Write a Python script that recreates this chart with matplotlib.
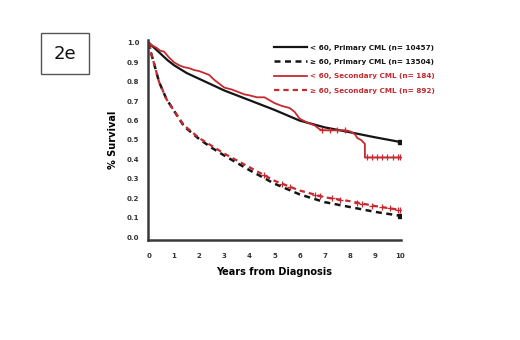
import numpy as np
import matplotlib
matplotlib.use("Agg")
import matplotlib.pyplot as plt
from matplotlib.patches import Rectangle

# Kaplan-Meier style survival curves
t_prim_young = [0, 0.25, 0.5, 0.75, 1, 1.5, 2, 2.5, 3, 4, 5, 6, 7, 8, 9, 10]
s_prim_young = [1.0, 0.97, 0.94, 0.91, 0.885, 0.845, 0.815, 0.785, 0.755, 0.705, 0.655, 0.6, 0.565, 0.54, 0.514, 0.49]

t_prim_old = [0, 0.1, 0.2, 0.4, 0.7, 1, 1.4, 2, 2.5, 3, 4, 5, 6, 7, 8, 9, 10]
s_prim_old = [1.0, 0.94, 0.895, 0.8, 0.71, 0.65, 0.57, 0.505, 0.46, 0.42, 0.345, 0.275, 0.22, 0.18, 0.155, 0.13, 0.11]

t_sec_young = [0, 0.15, 0.3, 0.45, 0.6, 0.8, 1.0, 1.2, 1.4, 1.6, 1.8, 2.0, 2.2, 2.4, 2.6, 2.8, 3.0, 3.3, 3.6, 3.8,
               4.0, 4.3, 4.6, 4.8, 5.0, 5.3, 5.6, 5.8, 6.0, 6.3, 6.6, 6.8, 7.0, 7.4, 7.8, 8.0, 8.2, 8.3, 8.45, 8.6, 8.6, 10.0]
s_sec_young = [1.0, 0.985, 0.975, 0.96, 0.955, 0.925, 0.9, 0.885, 0.875, 0.87, 0.86, 0.855, 0.845, 0.835, 0.81, 0.79,
               0.77, 0.76, 0.745, 0.735, 0.73, 0.72, 0.72, 0.705, 0.69, 0.675, 0.665, 0.645, 0.61, 0.59, 0.575, 0.555,
               0.55, 0.55, 0.55, 0.545, 0.53, 0.51, 0.5, 0.48, 0.41, 0.41]
cens_sec_young = [6.9, 7.2, 7.5, 7.8, 8.7, 8.9, 9.1, 9.3, 9.5, 9.7, 9.9, 10.0]

t_sec_old = [0, 0.1, 0.2, 0.4, 0.7, 1, 1.4, 2, 2.5, 3, 4, 5, 6, 7, 8, 9, 10]
s_sec_old = [1.0, 0.94, 0.895, 0.8, 0.71, 0.65, 0.575, 0.51, 0.47, 0.43, 0.36, 0.29, 0.24, 0.205, 0.185, 0.16, 0.14]
cens_sec_old = [4.6, 5.3, 5.6, 6.6, 6.8, 7.3, 7.6, 8.3, 8.5, 8.9, 9.3, 9.6, 9.9, 10.0]

labels = ["< 60, Primary CML (n= 10457)", "\u2265 60, Primary CML (n= 13504)",
          "< 60, Secondary CML (n= 184)", "\u2265 60, Secondary CML (n= 892)"]

BLACK = "#151515"
RED = "#c62a2f"

fig = plt.figure(figsize=(5.2, 3.4), dpi=100)
ax = fig.add_axes([147.7 / 520, 1 - 240 / 340, (401.3 - 147.7) / 520, 200 / 340])

dash = (0, (2.4, 1.8))
l1, = ax.plot(t_prim_young, s_prim_young, color=BLACK, lw=1.6)
l2, = ax.plot(t_prim_old, s_prim_old, color=BLACK, lw=1.8, ls=dash)
l3, = ax.plot(t_sec_young, s_sec_young, color=RED, lw=1.3)
l4, = ax.plot(t_sec_old, s_sec_old, color=RED, lw=1.6, ls=dash)

# end-of-follow-up markers on the primary curves
ax.plot([t_prim_young[-1], t_prim_old[-1]], [s_prim_young[-1], s_prim_old[-1]], ls="none",
        marker="s", ms=3, color=BLACK)

# censoring ticks
ax.plot(cens_sec_young, np.interp(cens_sec_young, t_sec_young, s_sec_young), ls="none", marker="+",
        color=RED, ms=4, mew=0.9)
ax.plot(cens_sec_old, np.interp(cens_sec_old, t_sec_old, s_sec_old), ls="none", marker="+",
        color=RED, ms=4, mew=0.9)

ax.set_xlim(-0.05, 10.05)
ax.set_ylim(-0.015, 1.015)
ax.set_xticks(range(0, 11))
ax.set_yticks(np.arange(0, 1.01, 0.1))
ax.set_yticklabels([f"{v:.1f}" for v in np.arange(0, 1.01, 0.1)])
ax.tick_params(length=0, labelsize=5, pad=9, colors="#333333")
ax.tick_params(axis="y", pad=6)
for lab in ax.get_xticklabels() + ax.get_yticklabels():
    lab.set_fontweight("bold")
for side in ["top", "right"]:
    ax.spines[side].set_visible(False)
for side in ["left", "bottom"]:
    ax.spines[side].set_linewidth(1.8)
    ax.spines[side].set_color("#3a3a3a")

ax.set_xlabel("Years from Diagnosis", fontsize=7, fontweight="bold", labelpad=6)
ax.set_ylabel("% Survival", fontsize=7, fontweight="bold", labelpad=6)

leg = fig.legend([l1, l2, l3, l4], labels, loc="upper left", bbox_to_anchor=(267 / 520, 1 - 38 / 340),
                 frameon=False, handlelength=4.6, handletextpad=0.5, labelspacing=1.15,
                 labelcolor=[BLACK, BLACK, RED, RED], prop={"weight": "bold", "size": 5.2})

# panel label box
fig.patches.append(Rectangle((41 / 520, 1 - 74 / 340), 48 / 520, 41 / 340, transform=fig.transFigure,
                             fill=False, edgecolor="#555555", lw=1.0))
fig.text(65 / 520, 1 - 54 / 340, "2e", fontsize=13, ha="center", va="center", color="#111111")

fig.savefig("out.png", dpi=100)
